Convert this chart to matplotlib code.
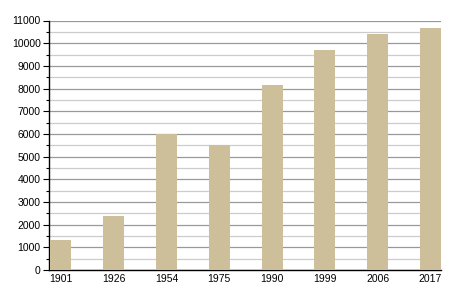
import matplotlib
matplotlib.use('Agg')
import matplotlib.pyplot as plt
from matplotlib.ticker import MultipleLocator

years = ['1901', '1926', '1954', '1975', '1990', '1999', '2006', '2017']
population = [1330, 2380, 6000, 5510, 8150, 9700, 10410, 10670]

plt.rcParams['font.family'] = ['Liberation Sans', 'DejaVu Sans']

fig = plt.figure(figsize=(4.5, 3), dpi=100)
ax = fig.add_axes([49/450, 0.1, 392/450, 0.9 - 20.5/300])

x = range(len(years))
ax.bar(x, population, width=0.4, color='#cdbf99', zorder=3)

ax.set_xlim(-0.226, 7.2)
ax.set_ylim(0, 11000)
ax.set_xticks(list(x))
ax.set_xticklabels(years)
ax.yaxis.set_major_locator(MultipleLocator(1000))
ax.yaxis.set_minor_locator(MultipleLocator(500))

ax.grid(axis='y', which='major', color='#999999', linewidth=0.9, zorder=0)
ax.grid(axis='y', which='minor', color='#cccccc', linewidth=0.9, zorder=0)

for s in ['top', 'right']:
    ax.spines[s].set_visible(False)
ax.spines['left'].set_linewidth(1)
ax.spines['bottom'].set_linewidth(1)

ax.tick_params(axis='y', which='major', length=4, width=0.8, labelsize=7.5, pad=2)
ax.tick_params(axis='y', which='minor', length=2, width=0.8)
ax.tick_params(axis='x', length=0, labelsize=7.5, pad=3)

fig.savefig('out.png', dpi=100)
